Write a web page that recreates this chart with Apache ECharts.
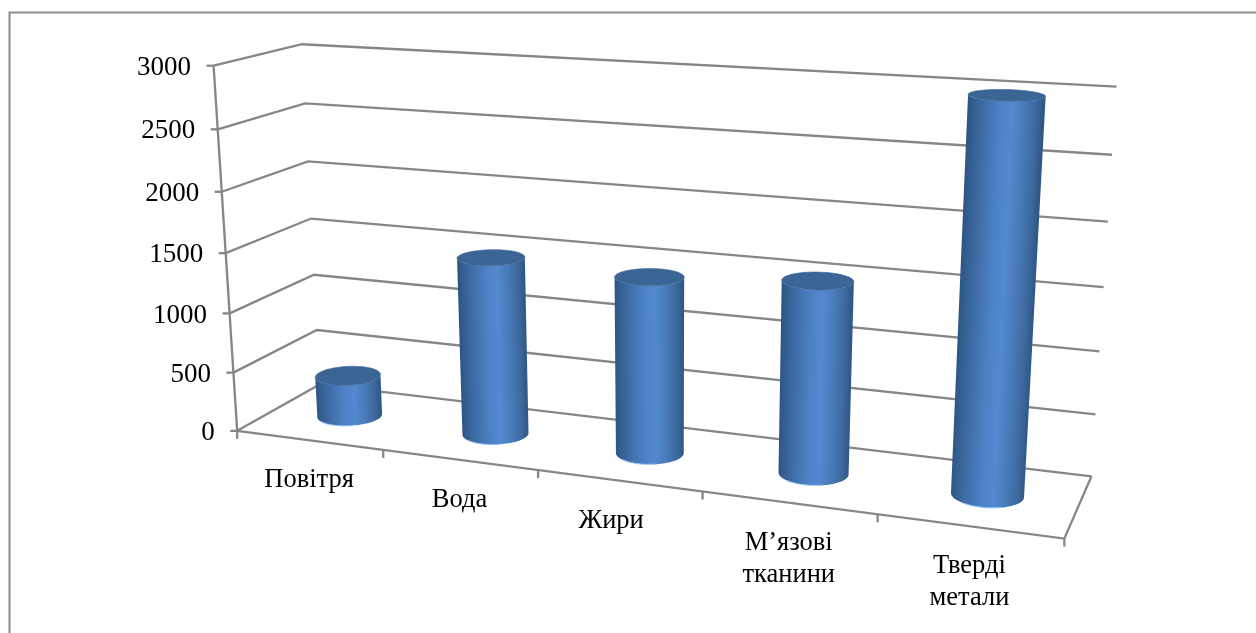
<!DOCTYPE html>
<html>
<head>
<meta charset="utf-8">
<style>html,body{margin:0;padding:0;background:#fff}#chart{width:1256px;height:633px}</style>
<script src="https://cdn.jsdelivr.net/npm/echarts@6/dist/echarts.min.js"></script>
</head>
<body>
<div id="chart"></div>
<script>
// Speed of sound by medium, drawn as cylinders in a perspective box.
const categories = ['Повітря', 'Вода', 'Жири', 'М’язові\nтканини', 'Тверді\nметали'];
const speeds = [350, 1480, 1440, 1530, 3000];
const valueTicks = [0, 500, 1000, 1500, 2000, 2500, 3000];

// Camera calibration: unit-box points (u along the front, v into depth, w upward) and where they sit on the page.
const BOX_POINTS = [
  [0, 0, 0, 237, 431], [1, 0, 0, 1064.3, 538], [0, 1, 0, 320, 385], [1, 1, 0, 1091.7, 475.7],
  [0, 0, 1, 214, 66], [0, 1, 1, 301, 44.5], [1, 1, 1, 1117, 87],
  [0, 0, 0.5, 226, 252], [0, 1, 0.5, 311.5, 218], [1, 1, 0.5, 1103, 287],
  [0.2, 0, 0, 383, 450], [0.4, 0, 0, 538, 470], [0.6, 0, 0, 702, 492], [0.8, 0, 0, 878, 515]
];
const LINE = '#868686';
const TEXT_FONT = '"Liberation Serif", "Times New Roman", serif';
const COLUMN_SHARE = 0.4;   // column diameter as a share of its category and of the depth
const LABEL_SHIFT = [0, 0, -8, 0, 0];   // sideways nudge of category captions

function solve(A, b) {
  const n = b.length, M = A.map((r, i) => r.concat(b[i]));
  for (let c = 0; c < n; c++) {
    let p = c;
    for (let r = c + 1; r < n; r++) if (Math.abs(M[r][c]) > Math.abs(M[p][c])) p = r;
    [M[c], M[p]] = [M[p], M[c]];
    for (let r = 0; r < n; r++) {
      if (r === c) continue;
      const f = M[r][c] / M[c][c];
      for (let k = c; k <= n; k++) M[r][k] -= f * M[c][k];
    }
  }
  return M.map((r, i) => r[n] / r[i]);
}
// Least-squares projective camera through the calibration points.
function buildProjection(points) {
  const rows = [], rhs = [];
  points.forEach(([u, v, w, px, py]) => {
    const x = px / 1000, y = py / 1000;
    rows.push([u, v, w, 1, 0, 0, 0, 0, -x * u, -x * v, -x * w]); rhs.push(x);
    rows.push([0, 0, 0, 0, u, v, w, 1, -y * u, -y * v, -y * w]); rhs.push(y);
  });
  const n = 11, N = [], B = [];
  for (let i = 0; i < n; i++) {
    N.push([]);
    for (let j = 0; j < n; j++) N[i].push(rows.reduce((s, r) => s + r[i] * r[j], 0));
    B.push(rows.reduce((s, r, k) => s + r[i] * rhs[k], 0));
  }
  const p = solve(N, B);
  return (u, v, w) => {
    const W = p[8] * u + p[9] * v + p[10] * w + 1;
    return [1000 * (p[0] * u + p[1] * v + p[2] * w + p[3]) / W,
            1000 * (p[4] * u + p[5] * v + p[6] * w + p[7]) / W];
  };
}
const project = buildProjection(BOX_POINTS);

// Grid-relative coordinates of a data value.
function toUnit(api, params, cat, val) {
  const p = api.coord([cat, val]);
  const r = params.coordSys;
  return [(p[0] - r.x) / r.width, (r.y + r.height - p[1]) / r.height];
}
const polyline = (points, width, color) => ({
  type: 'polyline', shape: { points }, silent: true,
  style: { stroke: color || LINE, lineWidth: width || 2.3, fill: null }
});

// Colour across the visible face of a column, from left silhouette to right.
const SHADE_STOPS = [
  { offset: 0, color: '#2c5484' }, { offset: 0.05, color: '#325c8e' }, { offset: 0.2, color: '#3e6ca6' },
  { offset: 0.42, color: '#4c82c5' }, { offset: 0.58, color: '#5389cf' }, { offset: 0.75, color: '#487ab8' },
  { offset: 0.9, color: '#3c689c' }, { offset: 1, color: '#2e5686' }
];

function renderGridLine(params, api) {
  const value = api.value(1);
  const w = toUnit(api, params, 0, value)[1];
  const a = project(0, 0, w), b = project(0, 1, w), c = project(1, 1, w);
  return {
    type: 'group', children: [
      polyline([a, b, c]),
      polyline([[a[0] - 7, a[1]], a]),
      { type: 'text', silent: true, style: {
        x: a[0] - 22.5, y: a[1] + 2, text: String(value), align: 'right', verticalAlign: 'middle',
        font: '27px ' + TEXT_FONT, fill: '#000' } }
    ]
  };
}

function renderFrame(params, api) {
  const children = [
    polyline([project(0, 0, 0), project(0, 0, 1)]),
    polyline([project(0, 0, 0), project(1, 0, 0), project(1, 1, 0)])
  ];
  const n = categories.length;
  for (let i = 0; i <= n; i++) {
    const p = project(i / n, 0, 0);
    children.push(polyline([p, [p[0], p[1] + 8]]));
  }
  return { type: 'group', children };
}

function renderCategoryLabel(params, api) {
  const i = api.value(0);
  const u = toUnit(api, params, i, 0)[0];
  const p = project(u, 0, 0);
  return { type: 'text', silent: true, style: {
    x: p[0] + LABEL_SHIFT[i], y: p[1] + 24, text: categories[i], align: 'center', verticalAlign: 'top',
    font: '26.5px ' + TEXT_FONT, lineHeight: 32, fill: '#000' } };
}

function renderColumn(params, api) {
  const i = api.value(0);
  const [uc, wTop] = toUnit(api, params, i, api.value(1));
  const ru = api.size([1, 0])[0] / params.coordSys.width * COLUMN_SHARE / 2;
  const rv = COLUMN_SHARE / 2, vc = 0.5;
  const ring = (t, w) => project(uc + ru * Math.cos(t), vc + rv * Math.sin(t), w);

  // Silhouette angles, measured across the column's leaning axis.
  const b0 = project(uc, vc, 0), t0 = project(uc, vc, wTop);
  const dx = t0[0] - b0[0], dy = t0[1] - b0[1], len = Math.hypot(dx, dy) || 1;
  const m = project(uc, vc, wTop / 2);
  const nx = -dy / len, ny = dx / len;
  const across = t => {
    const p = ring(t, wTop / 2);
    return (p[0] - m[0]) * nx + (p[1] - m[1]) * ny;
  };
  let tL = Math.PI, tR = 2 * Math.PI, lo = Infinity, hi = -Infinity;
  for (let t = Math.PI / 2; t < 1.5 * Math.PI; t += 0.005) {
    const a = across(t);
    if (a < lo) { lo = a; tL = t; }
  }
  for (let t = 1.5 * Math.PI; t < 2.5 * Math.PI; t += 0.005) {
    const a = across(t);
    if (a > hi) { hi = a; tR = t; }
  }

  // Curved face: front arc of the base, back along the front arc of the top.
  const STEPS = 48, face = [];
  for (let j = 0; j <= STEPS; j++) face.push(ring(tL + (tR - tL) * j / STEPS, 0));
  for (let j = STEPS; j >= 0; j--) face.push(ring(tL + (tR - tL) * j / STEPS, wTop));
  const children = [{
    type: 'polygon', silent: true, shape: { points: face },
    style: { fill: {
      type: 'linear', global: true,
      x: m[0] + nx * lo, y: m[1] + ny * lo, x2: m[0] + nx * hi, y2: m[1] + ny * hi,
      colorStops: SHADE_STOPS
    } }
  }];
  // Lit rim along the front of the base.
  const rim = [];
  for (let k = 0; k <= 16; k++) rim.push(ring(1.5 * Math.PI - 0.55 + 1.1 * k / 16, 0));
  children.push(polyline(rim, 1.2, 'rgba(150,195,245,0.8)'));
  // Top face.
  const top = [];
  for (let k = 0; k < 72; k++) top.push(ring(k / 72 * 2 * Math.PI, wTop));
  children.push({
    type: 'polygon', silent: true, shape: { points: top },
    style: { fill: '#3b6595', stroke: '#3b6595', lineWidth: 0.6 }
  });
  return { type: 'group', children };
}

const chart = echarts.init(document.getElementById('chart'), null, { renderer: 'canvas' });
chart.setOption({
  animation: false,
  backgroundColor: '#fff',
  grid: { left: 240, right: 240, top: 100, bottom: 100 },
  xAxis: { type: 'category', data: categories, show: false },
  yAxis: { type: 'value', min: 0, max: 3000, interval: 500, show: false },
  graphic: [{
    type: 'polyline', silent: true,
    shape: { points: [[9.5, 640], [9.5, 12.5], [1270, 12.5]] },
    style: { stroke: '#8c8c8c', lineWidth: 2, fill: null }
  }],
  series: [
    { type: 'custom', clip: false, silent: true, renderItem: renderGridLine, z: 1,
      data: valueTicks.map(v => [0, v]) },
    { type: 'custom', clip: false, silent: true, renderItem: renderFrame, z: 2, data: [[0, 0]] },
    { type: 'custom', clip: false, silent: true, renderItem: renderCategoryLabel, z: 2,
      data: categories.map((c, i) => [i, 0]) },
    { type: 'custom', clip: false, silent: true, renderItem: renderColumn, z: 3,
      data: speeds.map((v, i) => [i, v]) }
  ]
});
</script>
</body>
</html>
